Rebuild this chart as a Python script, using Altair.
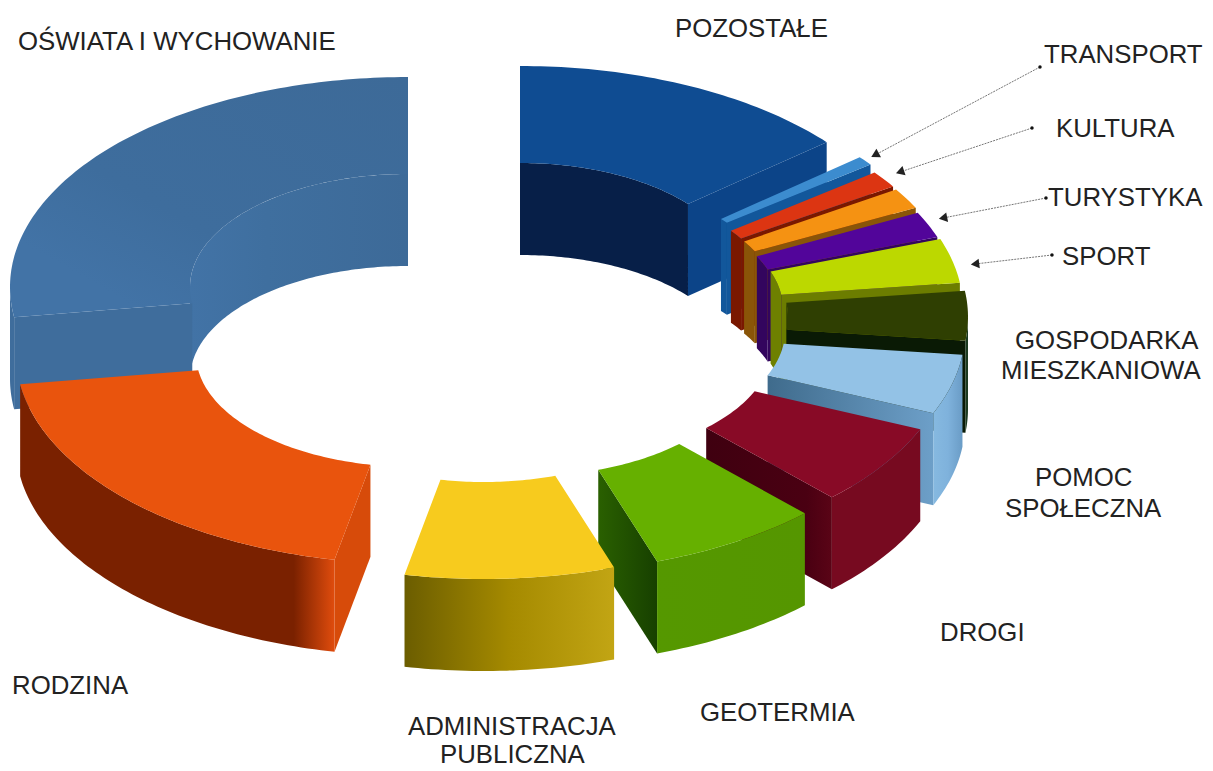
import math
import altair as alt
import pandas as pd

# --- values (percent share, clockwise from the top) ---
keys = ["POZOSTAŁE", "TRANSPORT", "KULTURA", "TURYSTYKA", "NIEOPISANY", "SPORT", "GOSPODARKA MIESZKANIOWA",
        "POMOC SPOŁECZNA", "DROGI", "GEOTERMIA", "ADMINISTRACJA PUBLICZNA", "RODZINA", "OŚWIATA I WYCHOWANIE"]
shares = [14.0, 0.7, 1.3, 1.6, 2.0, 3.4, 3.8, 4.6, 6.3, 7.0, 8.5, 19.5, 27.3]

# --- layout: exploded centre of each slice ---
centres_x = [520, 553, 557, 560, 562, 565, 570, 567, 554, 527, 484, 414, 408]
centres_y = [276, 291, 299, 302, 307, 309, 317, 331, 347, 363, 369, 354, 287]
OUT_A, OUT_B, IN_A, IN_B, DEPTH = 398, 210, 218, 113, 92


def grad(stops, x1=0, y1=0, x2=1, y2=0):
    return alt.Gradient(gradient="linear", x1=x1, y1=y1, x2=x2, y2=y2,
                        stops=[alt.GradientStop(color=c, offset=o) for o, c in stops])


# top, inner wall, visible cut face, outer wall
styles = [
    ("#0f4c92", "#071f48", "#0c4488", "#0c4488"),
    ("#3c8ccf", "#12579b", "#12579b", "#12579b"),
    ("#dc3512", "#7a1800", "#7a1800", "#7a1800"),
    ("#f59212", "#8a5508", "#8a5508", "#8a5508"),
    ("#52059a", "#33055e", "#33055e", "#33055e"),
    ("#bcd800", "#6e8000", "#6c7d00", "#6c7d00"),
    ("#2f3f02", "#2f3f02", "#0a1a05", "#1b3a20"),
    ("#93c2e6", "#3f6b8c", grad([(0, "#3f6b8c"), (1, "#6d9fc8")]),
     grad([(0, "#86b9e0"), (0.5, "#7fb2dc"), (1, "#6a9cc6")])),
    ("#880a26", "#4a0012", grad([(0, "#3f0010"), (0.8, "#4a0012"), (1, "#5a0416")]), "#770a20"),
    ("#66b000", "#1f5000", grad([(0, "#2a6000"), (1, "#174000")]),
     grad([(0, "#559800"), (1, "#559600")])),
    ("#f7cb1e", "#8a7000", "#8a7000", grad([(0, "#6b5d00"), (0.5, "#a58a00"), (1, "#c2a514")])),
    ("#e9540d", "#7a2100", "#d74b0a", grad([(0, "#7a2100"), (0.87, "#7a2100"), (1, "#e04c0d")])),
    (grad([(0, "#3d6a98"), (0.7, "#3e6d9d"), (1, "#4273a6")], x1=1, y1=0, x2=0.2, y2=0.85),
     grad([(0, "#4273a6"), (0.35, "#3f6f9f"), (1, "#3d6a98")]), "#3f6d9c", "#3f6d9c"),
]

# --- labels ---
label_text = ["OŚWIATA I WYCHOWANIE", "POZOSTAŁE", "TRANSPORT", "KULTURA", "TURYSTYKA", "SPORT",
              "GOSPODARKA", "MIESZKANIOWA", "POMOC", "SPOŁECZNA", "DROGI", "GEOTERMIA",
              "ADMINISTRACJA", "PUBLICZNA", "RODZINA"]
label_x = [18, 675, 1044, 1056, 1048, 1062, 1015, 1001, 1035, 1005, 940, 700, 408, 440, 12]
label_y = [42, 29, 55, 129, 198, 257, 341, 371, 478, 509, 633, 713, 727, 755, 686]

# --- leader arrows ---
arrow_x = [1040, 1032, 1046, 1052]
arrow_y = [67, 128, 198, 255]
arrow_x2 = [875, 900, 943, 975]
arrow_y2 = [155, 172, 218, 264]


def pt(cx, cy, a, b, t, drop=0):
    r = math.radians(t)
    return [cx + a * math.sin(r), cy - b * math.cos(r) + drop]


def arc(cx, cy, a, b, t0, t1, drop=0):
    n = max(2, int(abs(t1 - t0)) + 2)
    return [pt(cx, cy, a, b, t0 + (t1 - t0) * i / (n - 1), drop) for i in range(n)]


PROJ = dict(type="identity", scale=1, translate=[-8, -8])


def poly(coords, fill):
    ring = coords + [coords[0]]
    feature = {"type": "Feature", "properties": {},
               "geometry": {"type": "Polygon", "coordinates": [ring]}}
    return (alt.Chart(alt.InlineData(values=[feature]))
            .mark_geoshape(fill=fill, stroke=None, strokeWidth=0)
            .project(**PROJ))


def clip(t0, t1, lo, hi):
    s, e = max(t0, lo), min(t1, hi)
    return (s, e) if e > s else None


layers = []
total = sum(shares)
starts, c = [], 0.0
for s in shares:
    starts.append((c * 360 / total, (c + s) * 360 / total))
    c += s

draw_order = [12, 0, 1, 2, 3, 4, 5, 6, 7, 8, 9, 10, 11]
for i in draw_order:
    t0, t1 = starts[i]
    cx, cy = centres_x[i], centres_y[i]
    top, inner, face, outer = styles[i]
    # inner wall (far half of the hole)
    for lo, hi in ((0, 90), (270, 360)):
        seg = clip(t0, t1, lo, hi)
        if seg:
            layers.append(poly(arc(cx, cy, IN_A, IN_B, seg[0], seg[1])
                               + arc(cx, cy, IN_A, IN_B, seg[1], seg[0], DEPTH), inner))
    # cut face that looks at the viewer
    cut = t1 if t1 < 180 else (t0 if t0 > 180 else None)
    if cut is not None:
        layers.append(poly([pt(cx, cy, IN_A, IN_B, cut), pt(cx, cy, OUT_A, OUT_B, cut),
                            pt(cx, cy, OUT_A, OUT_B, cut, DEPTH), pt(cx, cy, IN_A, IN_B, cut, DEPTH)], face))
    # outer wall (near half)
    seg = clip(t0, t1, 90, 270)
    if seg:
        layers.append(poly(arc(cx, cy, OUT_A, OUT_B, seg[0], seg[1])
                           + arc(cx, cy, OUT_A, OUT_B, seg[1], seg[0], DEPTH), outer))
    # top surface
    layers.append(poly(arc(cx, cy, OUT_A, OUT_B, t0, t1) + arc(cx, cy, IN_A, IN_B, t1, t0), top))

labels = pd.DataFrame({"t": label_text, "x": [v - 8 for v in label_x], "y": [v - 8 for v in label_y]})
text_layer = alt.Chart(labels).mark_text(
    font="Liberation Sans", fontSize=25.8, align="left", baseline="middle", color="#222222"
).encode(x=alt.X("x:Q", scale=None, axis=None), y=alt.Y("y:Q", scale=None, axis=None), text="t:N")

arrows = pd.DataFrame({
    "x": [v - 8 for v in arrow_x], "y": [v - 8 for v in arrow_y],
    "x2": [v - 8 for v in arrow_x2], "y2": [v - 8 for v in arrow_y2],
})
arrows["a"] = [(math.degrees(math.atan2(x2 - x, -(y2 - y))) + 360) % 360
               for x, y, x2, y2 in zip(arrow_x, arrow_y, arrow_x2, arrow_y2)]
rule_layer = alt.Chart(arrows).mark_rule(color="#777777", strokeWidth=1, strokeDash=[2, 1]).encode(
    x=alt.X("x:Q", scale=None, axis=None), y=alt.Y("y:Q", scale=None, axis=None), x2="x2:Q", y2="y2:Q")
head_layer = alt.Chart(arrows).mark_point(shape="triangle-up", filled=True, color="#222222", size=95, opacity=1).encode(
    x=alt.X("x2:Q", scale=None, axis=None), y=alt.Y("y2:Q", scale=None, axis=None), angle=alt.Angle("a:Q", scale=None))
dot_layer = alt.Chart(arrows).mark_point(shape="circle", filled=True, color="#111111", size=12, opacity=1).encode(
    x=alt.X("x:Q", scale=None, axis=None), y=alt.Y("y:Q", scale=None, axis=None))

chart = alt.layer(*layers, rule_layer, head_layer, dot_layer, text_layer).resolve_scale(
    x="independent", y="independent"
).properties(width=1197, height=763, padding=0, background="white",
             autosize=alt.AutoSizeParams(type="none")
).configure_view(stroke=None)

chart.save("out.html", embed_options={"renderer": "svg", "actions": False})
